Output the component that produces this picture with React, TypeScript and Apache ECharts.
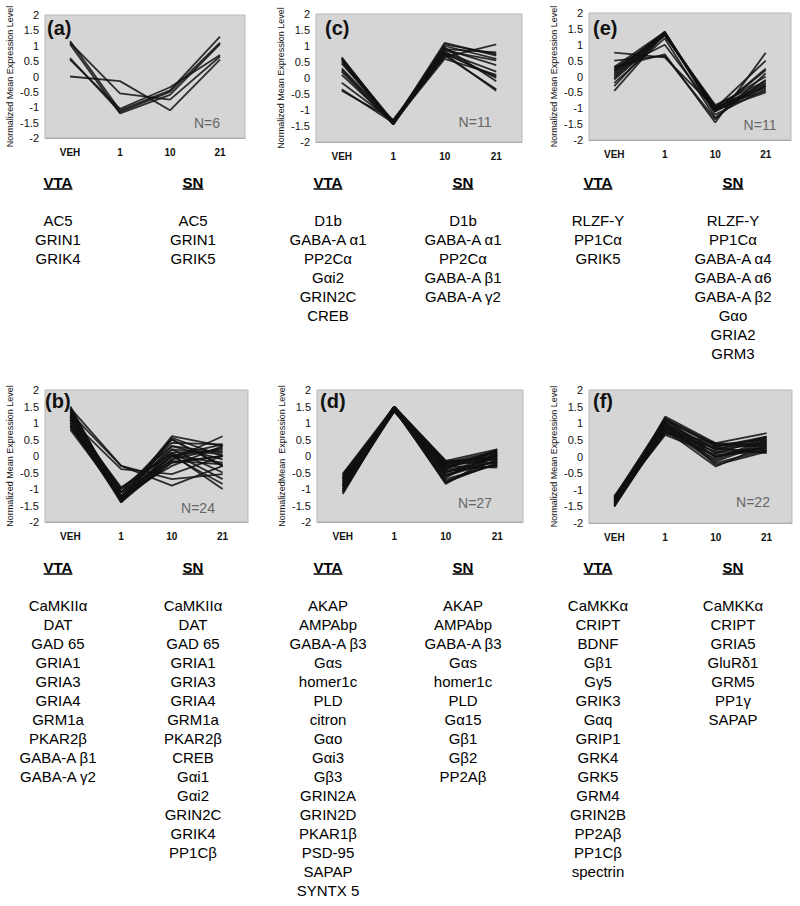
import React, { useEffect, useRef } from "react";
import * as echarts from "echarts";

const categories = ["VEH", "1", "10", "21"];
const yMin = -2;
const yMax = 2;
const yInterval = 0.5;

const panelLabels = ["(a)", "(c)", "(e)", "(b)", "(d)", "(f)"];
const nLabels = ["N=6", "N=11", "N=11", "N=24", "N=27", "N=22"];
const yAxisNames = [
  "Normalized Mean Expression Level",
  "Normalized Mean Expression Level",
  "Normalized Mean Expression Level",
  "Normalized Mean Expression Level",
  "NormalizedMean  Expression Level",
  "Normalized Mean Expression Level",
];

const linesA = [
  [1.15, -1.1, -0.45, 1.3],
  [1.05, -1.2, -0.6, 1.05],
  [0.6, -1.15, -0.5, 1.1],
  [0.55, -1.05, -0.35, 0.7],
  [0.0, -0.15, -1.1, 0.55],
  [1.1, -0.55, -0.75, 0.65],
];

const linesC = [
  [0.65, -1.4, 1.1, 0.7],
  [0.6, -1.35, 1.0, 0.6],
  [0.55, -1.45, 0.9, 0.8],
  [0.5, -1.4, 0.85, 0.55],
  [0.3, -1.35, 0.95, -0.1],
  [0.25, -1.4, 0.8, 0.2],
  [0.2, -1.45, 0.75, 0.05],
  [-0.15, -1.35, 0.7, -0.35],
  [-0.35, -1.4, 0.6, 0.1],
  [-0.4, -1.3, 0.75, -0.4],
  [0.6, -1.45, 1.05, 0.75],
  [0.45, -1.35, 0.65, 1.05],
  [0.1, -1.4, 0.9, 0.4],
  [0.6, -1.4, 0.8, 0.0],
];

const linesE = [
  [0.75, 0.6, -1.0, -0.3],
  [0.3, 0.7, -1.45, 0.75],
  [0.2, 1.35, -1.0, 0.5],
  [0.1, 1.4, -1.1, 0.25],
  [0.0, 1.35, -0.95, 0.0],
  [-0.1, 1.3, -1.0, -0.2],
  [-0.3, 1.4, -1.1, -0.3],
  [-0.45, 1.35, -1.05, -0.5],
  [0.25, 1.3, -0.9, -0.15],
  [0.15, 1.4, -1.2, -0.4],
  [-0.2, 1.2, -1.3, -0.1],
  [0.05, 1.35, -1.0, -0.25],
  [0.5, 0.65, -1.35, 0.1],
  [0.3, 1.4, -1.05, -0.35],
  [-0.05, 1.3, -0.95, -0.45],
  [0.2, 1.0, -1.1, 0.2],
];

const linesB = [
  [1.5, -1.3, 0.6, 0.3],
  [1.45, -1.35, 0.55, 0.0],
  [1.4, -1.4, 0.5, -0.3],
  [1.4, -1.2, 0.4, 0.35],
  [1.35, -1.3, 0.3, 0.1],
  [1.3, -1.1, 0.2, -0.5],
  [1.3, -1.25, 0.0, 0.2],
  [1.25, -1.4, -0.1, 0.6],
  [1.2, -1.0, 0.1, -0.7],
  [1.2, -1.3, -0.2, 0.0],
  [1.15, -1.35, 0.0, -0.2],
  [1.1, -1.2, -0.3, 0.3],
  [1.1, -0.95, 0.05, -1.0],
  [1.05, -1.3, 0.1, 0.15],
  [1.0, -1.1, -0.15, -0.25],
  [1.0, -1.4, 0.2, 0.05],
  [0.95, -1.2, 0.0, -0.85],
  [0.9, -1.3, -0.1, 0.25],
  [0.85, -1.0, 0.3, -0.1],
  [0.8, -1.25, 0.0, 0.35],
  [1.45, -0.3, -0.9, -0.3],
  [1.1, -0.4, -0.55, 0.0],
  [1.3, -0.3, -0.7, -0.55],
  [1.2, -1.1, 0.5, -0.3],
  [0.9, -1.35, -0.2, 0.0],
];

const linesD = [
  [-0.55, 1.5, -0.15, 0.2],
  [-0.6, 1.45, -0.2, 0.0],
  [-0.65, 1.4, -0.3, -0.1],
  [-0.7, 1.5, -0.25, 0.1],
  [-0.75, 1.45, -0.4, -0.2],
  [-0.8, 1.4, -0.35, 0.15],
  [-0.85, 1.5, -0.5, -0.05],
  [-0.9, 1.45, -0.45, -0.3],
  [-0.95, 1.4, -0.6, 0.0],
  [-1.0, 1.5, -0.55, -0.15],
  [-1.05, 1.45, -0.7, -0.25],
  [-1.1, 1.4, -0.8, -0.1],
  [-1.15, 1.45, -0.85, 0.05],
  [-0.6, 1.4, -0.3, -0.35],
  [-0.7, 1.35, -0.2, -0.2],
  [-0.8, 1.5, -0.65, 0.1],
  [-0.9, 1.35, -0.4, 0.2],
  [-1.0, 1.4, -0.3, -0.05],
  [-0.65, 1.45, -0.5, 0.05],
  [-0.75, 1.5, -0.15, -0.1],
  [-0.85, 1.4, -0.75, -0.25],
  [-0.95, 1.5, -0.35, 0.1],
  [-1.05, 1.35, -0.45, -0.3],
  [-0.55, 1.4, -0.6, -0.15],
  [-1.1, 1.5, -0.25, 0.0],
  [-0.7, 1.45, -0.8, -0.2],
  [-0.9, 1.5, -0.2, 0.15],
];

const linesF = [
  [-1.5, 1.2, 0.4, 0.7],
  [-1.45, 1.15, 0.35, 0.5],
  [-1.4, 1.1, 0.3, 0.6],
  [-1.35, 1.05, 0.2, 0.4],
  [-1.3, 1.0, 0.1, 0.55],
  [-1.25, 0.95, 0.0, 0.3],
  [-1.2, 0.9, -0.1, 0.45],
  [-1.5, 0.85, -0.2, 0.2],
  [-1.45, 0.8, -0.3, 0.35],
  [-1.4, 0.75, 0.25, 0.1],
  [-1.35, 0.7, 0.15, 0.25],
  [-1.3, 0.65, 0.05, 0.15],
  [-1.25, 1.15, -0.05, 0.5],
  [-1.2, 1.1, 0.35, 0.3],
  [-1.45, 1.0, 0.2, 0.6],
  [-1.4, 0.95, 0.1, 0.2],
  [-1.35, 0.9, -0.15, 0.4],
  [-1.3, 0.85, 0.3, 0.55],
  [-1.5, 0.8, 0.0, 0.25],
  [-1.25, 0.75, 0.4, 0.35],
  [-1.4, 1.05, -0.25, 0.15],
  [-1.3, 0.7, 0.25, 0.45],
];

const vtaA = ["AC5", "GRIN1", "GRIK4"];
const snA = ["AC5", "GRIN1", "GRIK5"];
const vtaC = ["D1b", "GABA-A α1", "PP2Cα", "Gαi2", "GRIN2C", "CREB"];
const snC = ["D1b", "GABA-A α1", "PP2Cα", "GABA-A β1", "GABA-A γ2"];
const vtaE = ["RLZF-Y", "PP1Cα", "GRIK5"];
const snE = ["RLZF-Y", "PP1Cα", "GABA-A α4", "GABA-A α6", "GABA-A β2", "Gαo", "GRIA2", "GRM3"];
const vtaB = ["CaMKIIα", "DAT", "GAD 65", "GRIA1", "GRIA3", "GRIA4", "GRM1a", "PKAR2β", "GABA-A β1", "GABA-A γ2"];
const snB = ["CaMKIIα", "DAT", "GAD 65", "GRIA1", "GRIA3", "GRIA4", "GRM1a", "PKAR2β", "CREB", "Gαi1", "Gαi2", "GRIN2C", "GRIK4", "PP1Cβ"];
const vtaD = ["AKAP", "AMPAbp", "GABA-A β3", "Gαs", "homer1c", "PLD", "citron", "Gαo", "Gαi3", "Gβ3", "GRIN2A", "GRIN2D", "PKAR1β", "PSD-95", "SAPAP", "SYNTX 5"];
const snD = ["AKAP", "AMPAbp", "GABA-A β3", "Gαs", "homer1c", "PLD", "Gα15", "Gβ1", "Gβ2", "PP2Aβ"];
const vtaF = ["CaMKKα", "CRIPT", "BDNF", "Gβ1", "Gγ5", "GRIK3", "Gαq", "GRIP1", "GRK4", "GRK5", "GRM4", "GRIN2B", "PP2Aβ", "PP1Cβ", "spectrin"];
const snF = ["CaMKKα", "CRIPT", "GRIA5", "GluRδ1", "GRM5", "PP1γ", "SAPAP"];

const panelLines = [linesA, linesC, linesE, linesB, linesD, linesF];
const panelVta = [vtaA, vtaC, vtaE, vtaB, vtaD, vtaF];
const panelSn = [snA, snC, snE, snB, snD, snF];

// layout (pixels)
const grids = [
  { left: 45, top: 15, width: 200, height: 123 },
  { left: 316, top: 14, width: 206, height: 128 },
  { left: 589, top: 13, width: 202, height: 127 },
  { left: 45, top: 390, width: 203, height: 132 },
  { left: 317, top: 390, width: 206, height: 132 },
  { left: 589, top: 390, width: 203, height: 133 },
];
const listCenters = [
  [58, 193], [328, 463], [598, 733],
  [58, 193], [328, 463], [598, 733],
];
const headingY = [182, 182, 182, 567, 567, 567];
const firstItemY = [220, 220, 220, 605, 605, 605];
const lineStep = 19;
const panelLabelPos = [[47, 28], [325, 28], [593, 28], [45, 401], [320, 401], [593, 401]];
const nLabelPos = [[207, 123], [475, 122], [760, 125], [198, 508], [475, 503], [753, 502]];

const FONT = "Liberation Sans, Arial, Helvetica, sans-serif";

function measure(text: string, font: string): number {
  const c = document.createElement("canvas");
  const ctx = c.getContext("2d");
  if (!ctx) return text.length * 8;
  ctx.font = font;
  return ctx.measureText(text).width;
}

export default function App() {
  const ref = useRef<HTMLDivElement>(null);
  useEffect(() => {
    if (!ref.current) return;
    const chart = echarts.init(ref.current, undefined, { renderer: "svg" });

    const grid: any[] = [];
    const xAxis: any[] = [];
    const yAxis: any[] = [];
    const series: any[] = [];
    const graphic: any[] = [];

    grids.forEach((g, i) => {
      grid.push({
        left: g.left,
        top: g.top,
        width: g.width,
        height: g.height,
        show: true,
        backgroundColor: "#d5d5d5",
        borderColor: "#b8b8b8",
        borderWidth: 1,
      });
      xAxis.push({
        type: "category",
        gridIndex: i,
        data: categories,
        boundaryGap: true,
        axisLine: { show: true, onZero: false, lineStyle: { color: "#aaaaaa" } },
        axisTick: { show: false },
        axisLabel: { color: "#111", fontSize: 10, fontWeight: "bold", fontFamily: FONT, margin: 9 },
        splitLine: { show: false },
      });
      yAxis.push({
        type: "value",
        gridIndex: i,
        min: yMin,
        max: yMax,
        interval: yInterval,
        name: yAxisNames[i],
        nameLocation: "middle",
        nameGap: 31,
        nameTextStyle: { fontSize: 9, color: "#111", fontFamily: FONT },
        axisLine: { show: false },
        axisTick: { show: false },
        axisLabel: { color: "#111", fontSize: 11, fontFamily: FONT, margin: 6 },
        splitLine: { show: false },
      });
      panelLines[i].forEach((vals) => {
        series.push({
          type: "line",
          xAxisIndex: i,
          yAxisIndex: i,
          data: vals,
          symbol: "none",
          silent: true,
          lineStyle: { color: "#111111", width: 1.8, opacity: 0.85 },
        });
      });

      graphic.push({
        type: "text",
        x: panelLabelPos[i][0],
        y: panelLabelPos[i][1],
        style: {
          text: panelLabels[i],
          fontSize: 20,
          fontWeight: "bold",
          fontFamily: FONT,
          fill: "#111",
          textAlign: "left",
          textVerticalAlign: "middle",
        },
      });
      graphic.push({
        type: "text",
        x: nLabelPos[i][0],
        y: nLabelPos[i][1],
        style: {
          text: nLabels[i],
          fontSize: 14,
          fontFamily: FONT,
          fill: "#666",
          textAlign: "center",
          textVerticalAlign: "middle",
        },
      });

      const cols = [
        { title: "VTA", items: panelVta[i], cx: listCenters[i][0] },
        { title: "SN", items: panelSn[i], cx: listCenters[i][1] },
      ];
      cols.forEach((col) => {
        const hy = headingY[i];
        graphic.push({
          type: "text",
          x: col.cx,
          y: hy,
          style: {
            text: col.title,
            fontSize: 15,
            fontWeight: "bold",
            fontFamily: FONT,
            fill: "#000",
            textAlign: "center",
            textVerticalAlign: "middle",
          },
        });
        const w = measure(col.title, "bold 15px " + FONT);
        graphic.push({
          type: "line",
          shape: { x1: col.cx - w / 2, y1: hy + 7, x2: col.cx + w / 2, y2: hy + 7 },
          style: { stroke: "#000", lineWidth: 1.5 },
        });
        col.items.forEach((t, k) => {
          graphic.push({
            type: "text",
            x: col.cx,
            y: firstItemY[i] + k * lineStep,
            style: {
              text: t,
              fontSize: 15,
              fontFamily: FONT,
              fill: "#000",
              textAlign: "center",
              textVerticalAlign: "middle",
            },
          });
        });
      });
    });

    chart.setOption({
      animation: false,
      backgroundColor: "#ffffff",
      grid,
      xAxis,
      yAxis,
      series,
      graphic,
    });
    return () => chart.dispose();
  }, []);
  return (
    <div
      ref={ref}
      style={{ position: "absolute", left: 0, top: 0, width: 800, height: 906, background: "#fff" }}
    />
  );
}
